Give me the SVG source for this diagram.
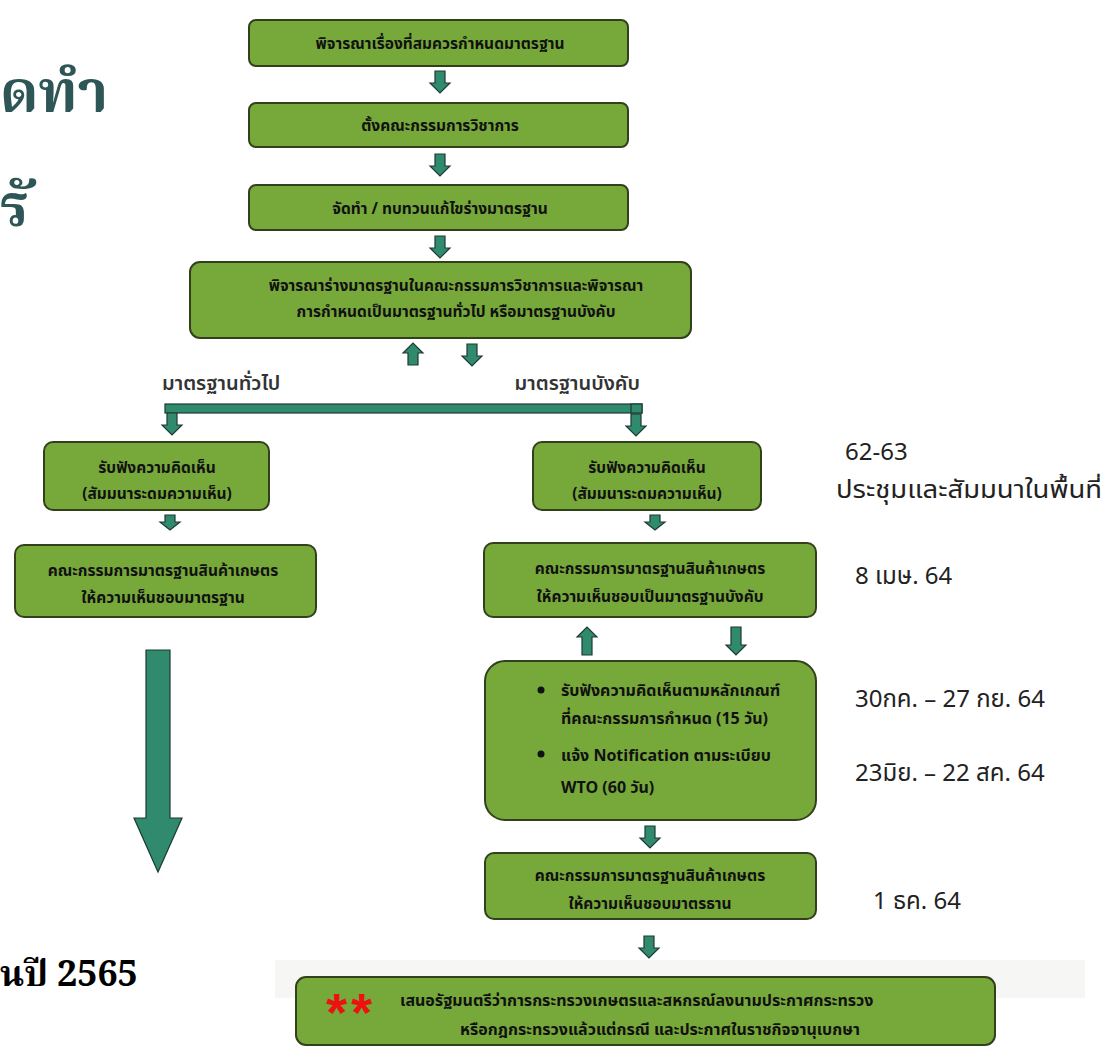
<svg xmlns="http://www.w3.org/2000/svg" width="1111" height="1060" viewBox="0 0 1111 1060">
<style>
.box{fill:#77a83a;stroke:#33401c;stroke-width:2}
.bt{font-family:"Noto Sans Thai","Tahoma","DejaVu Sans","Liberation Sans",sans-serif;font-weight:bold;font-size:15.5px;fill:#111;text-anchor:middle}
.bl{font-family:"Noto Sans Thai","Tahoma","DejaVu Sans","Liberation Sans",sans-serif;font-weight:bold;font-size:16px;fill:#111}
.lab{font-family:"Noto Sans Thai","Tahoma","DejaVu Sans","Liberation Sans",sans-serif;font-weight:600;font-size:20px;fill:#333}
.date{font-family:"Noto Sans Thai","Tahoma","DejaVu Sans","Liberation Sans",sans-serif;font-size:24px;fill:#222}
.title{font-family:"Noto Serif Thai","Liberation Serif","DejaVu Serif",serif;font-weight:bold;font-size:58px;fill:#2e5656}
.year{font-family:"Noto Serif Thai","Liberation Serif","DejaVu Serif",serif;font-weight:bold;font-size:36px;fill:#000}
.arr{fill:#2f8a6e;stroke:#1e3a30;stroke-width:1.2}
</style>
<defs>
<path id="da" class="arr" d="M-5,0 H5 V12 H10 L0,22 L-10,12 H-5 Z"/>
<path id="ua" class="arr" d="M-5,22 H5 V10 H10 L0,0 L-10,10 H-5 Z"/>
<path id="dal" class="arr" d="M-5,0 H5 V18 H10 L0,28 L-10,18 H-5 Z"/>
<path id="ual" class="arr" d="M-5,28 H5 V10 H10 L0,0 L-10,10 H-5 Z"/>
</defs>
<rect x="0" y="0" width="1111" height="1060" fill="#ffffff"/>
<rect x="275" y="960" width="810" height="38" fill="#f6f6f5"/>

<g id="titles">
<text class="title" x="0" y="112">ดทำ</text>
<text class="title" x="0" y="226">รั</text>
<text class="year" x="0" y="986">นปี 2565</text>
</g>

<g id="connectors">
<use href="#da" x="440" y="71"/>
<use href="#da" x="440" y="154"/>
<use href="#da" x="440" y="236"/>
<use href="#ua" x="413" y="343"/>
<use href="#da" x="472" y="344"/>
<rect class="arr" x="165" y="404" width="477" height="9"/>
<rect class="arr" x="631" y="404" width="11" height="9"/>
<use href="#da" x="172" y="413"/>
<use href="#da" x="636" y="414"/>
<path class="arr" d="M165,515 H175 V522 H180 L170,530 L160,522 H165 Z"/>
<path class="arr" d="M650,515 H660 V522 H665 L655,530 L645,522 H650 Z"/>
<use href="#ual" x="587" y="627"/>
<use href="#dal" x="736" y="627"/>
<use href="#da" x="650" y="826"/>
<use href="#da" x="649" y="936"/>
<path class="arr" d="M146,650 H170 V818 H182 L158,872 L134,818 H146 Z"/>
</g>

<g id="n1"><rect class="box" x="249" y="20" width="379" height="46" rx="7"/>
<text class="bt" x="440" y="49">พิจารณาเรื่องที่สมควรกำหนดมาตรฐาน</text></g>
<g id="n2"><rect class="box" x="249" y="103" width="379" height="44" rx="7"/>
<text class="bt" x="440" y="131">ตั้งคณะกรรมการวิชาการ</text></g>
<g id="n3"><rect class="box" x="249" y="185" width="379" height="45" rx="7"/>
<text class="bt" x="440" y="214">จัดทำ / ทบทวนแก้ไขร่างมาตรฐาน</text></g>
<g id="n4"><rect class="box" x="190" y="262" width="501" height="76" rx="10"/>
<text class="bt" x="456" y="291">พิจารณาร่างมาตรฐานในคณะกรรมการวิชาการและพิจารณา</text>
<text class="bt" x="456" y="317">การกำหนดเป็นมาตรฐานทั่วไป หรือมาตรฐานบังคับ</text></g>

<g id="labels">
<text class="lab" x="162" y="390">มาตรฐานทั่วไป</text>
<text class="lab" x="640" y="390" text-anchor="end">มาตรฐานบังคับ</text>
</g>

<g id="a1"><rect class="box" x="44" y="442" width="225" height="68" rx="9"/>
<text class="bt" x="157" y="473">รับฟังความคิดเห็น</text>
<text class="bt" x="157" y="499">(สัมมนาระดมความเห็น)</text></g>
<g id="a2"><rect class="box" x="15" y="545" width="301" height="72" rx="9"/>
<text class="bt" x="163" y="576">คณะกรรมการมาตรฐานสินค้าเกษตร</text>
<text class="bt" x="163" y="603">ให้ความเห็นชอบมาตรฐาน</text></g>

<g id="b1"><rect class="box" x="533" y="442" width="228" height="68" rx="9"/>
<text class="bt" x="647" y="473">รับฟังความคิดเห็น</text>
<text class="bt" x="647" y="499">(สัมมนาระดมความเห็น)</text></g>
<g id="b2"><rect class="box" x="484" y="543" width="332" height="74" rx="9"/>
<text class="bt" x="650" y="574">คณะกรรมการมาตรฐานสินค้าเกษตร</text>
<text class="bt" x="650" y="602">ให้ความเห็นชอบเป็นมาตรฐานบังคับ</text></g>
<g id="b3"><rect class="box" x="485" y="661" width="331" height="159" rx="20"/>
<circle cx="541" cy="690" r="3.5" fill="#111"/>
<circle cx="541" cy="754" r="3.5" fill="#111"/>
<text class="bl" x="561" y="696">รับฟังความคิดเห็นตามหลักเกณฑ์</text>
<text class="bl" x="561" y="724">ที่คณะกรรมการกำหนด (15 วัน)</text>
<text class="bl" x="561" y="761">แจ้ง Notification ตามระเบียบ</text>
<text class="bl" x="561" y="793">WTO (60 วัน)</text></g>
<g id="b4"><rect class="box" x="485" y="853" width="331" height="66" rx="9"/>
<text class="bt" x="650" y="881">คณะกรรมการมาตรฐานสินค้าเกษตร</text>
<text class="bt" x="650" y="909">ให้ความเห็นชอบมาตรธาน</text></g>
<g id="b5"><rect class="box" x="296" y="977" width="699" height="68" rx="10"/>
<text x="326" y="1031" font-family="Liberation Sans,Arial,sans-serif" font-weight="bold" font-size="54" letter-spacing="4" fill="#ee1111">**</text>
<text class="bl" x="400" y="1006">เสนอรัฐมนตรีว่าการกระทรวงเกษตรและสหกรณ์ลงนามประกาศกระทรวง</text>
<text class="bl" x="660" y="1035" text-anchor="middle">หรือกฎกระทรวงแล้วแต่กรณี และประกาศในราชกิจจานุเบกษา</text></g>

<g id="dates">
<text class="date" x="845" y="460">62-63</text>
<text class="date" x="836" y="498" textLength="266" lengthAdjust="spacingAndGlyphs">ประชุมและสัมมนาในพื้นที่</text>
<text class="date" x="855" y="584">8 เมษ. 64</text>
<text class="date" x="855" y="707">30กค. – 27 กย. 64</text>
<text class="date" x="855" y="781">23มิย. – 22 สค. 64</text>
<text class="date" x="873" y="909">1 ธค. 64</text>
</g>
</svg>
